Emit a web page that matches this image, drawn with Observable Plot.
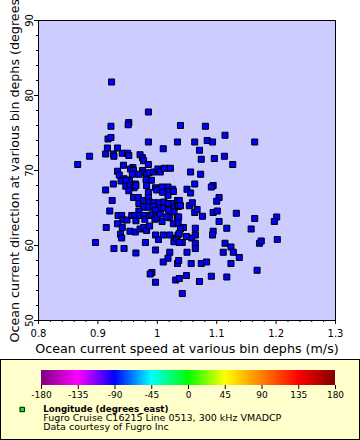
<!DOCTYPE html>
<html><head><meta charset="utf-8">
<script src="https://cdn.jsdelivr.net/npm/d3@7"></script>
<script src="https://cdn.jsdelivr.net/npm/@observablehq/plot@0.6"></script>
<style>
body{margin:0;background:#fff;font-family:"DejaVu Sans",sans-serif;}
#chart{width:360px;height:359px;overflow:hidden;}
#legend{width:360px;height:81px;box-sizing:border-box;border:1px solid #000;background:#ffffcc;}
</style></head><body>
<div id="chart"></div><div id="legend"></div>
<script>
const speed = [0.923,0.985,0.952,0.951,0.922,1.039,1.081,1.114,0.917,0.922,0.985,1.034,1.063,1.084,1.093,1.164,1.010,1.071,0.916,0.933,
0.886,0.866,0.913,0.926,0.927,0.941,0.950,0.952,0.971,0.975,0.977,0.985,0.943,1.074,1.096,1.113,1.127,0.959,0.955,0.960,
0.975,0.976,0.969,0.958,0.933,0.936,0.944,0.939,0.953,0.948,0.963,0.982,0.986,0.994,1.001,1.005,1.012,1.022,0.981,0.990,
0.926,1.056,1.073,1.063,1.094,1.091,0.913,0.947,0.954,0.961,0.964,0.952,0.960,0.968,0.969,0.977,0.977,0.985,0.982,0.997,
0.999,0.985,0.987,0.994,0.986,0.994,1.003,1.004,1.011,1.011,1.008,1.018,1.026,1.019,1.027,1.018,1.009,1.019,1.019,1.027,
1.029,1.028,1.034,1.035,0.924,0.920,0.934,0.940,0.942,0.933,0.941,0.938,0.940,0.949,0.957,0.962,0.964,0.969,0.970,0.978,
0.979,0.987,0.991,0.997,0.998,0.996,0.954,0.963,0.971,0.977,0.982,0.987,1.000,1.008,1.005,1.021,1.027,1.034,1.035,1.016,
0.914,0.896,0.927,0.944,0.964,0.980,0.997,1.002,1.010,1.021,1.028,1.032,1.035,0.997,1.021,1.018,1.010,1.034,1.036,0.991,
0.988,0.997,1.031,1.037,1.050,1.056,1.104,1.100,1.037,1.036,1.039,1.054,1.059,1.063,1.067,1.076,1.094,1.101,1.133,1.104,
1.164,1.201,1.197,1.036,1.044,1.039,1.037,1.064,1.064,1.058,1.049,1.042,1.037,1.094,1.093,1.117,1.158,1.114,1.124,1.128,
1.111,1.138,1.172,1.175,1.202,1.064,1.064,1.050,1.124,1.168,1.057,1.074,1.083,1.049,1.071,1.091,1.117,1.042];
const direction = [81.8,77.8,76.4,76.1,75.9,76.0,75.9,74.7,74.2,74.4,73.8,73.8,73.8,74.0,73.8,73.8,72.9,72.7,73.0,73.0,
71.9,70.8,72.2,72.2,71.9,72.3,72.3,72.0,72.1,71.7,71.3,70.8,70.7,71.5,71.6,71.9,70.8,70.4,70.2,70.0,
70.0,69.7,69.5,69.5,69.9,69.4,68.9,68.6,68.7,68.7,68.2,69.5,69.7,69.8,70.2,69.8,70.3,70.3,68.8,68.7,
68.2,69.8,69.5,68.2,68.0,67.8,67.4,67.9,68.0,67.7,68.0,67.3,66.4,66.4,65.6,66.0,65.1,67.1,68.0,67.7,
67.4,66.4,65.8,65.7,65.1,65.2,65.7,65.0,65.8,65.0,67.8,67.8,67.5,67.2,67.2,66.7,67.1,65.6,64.7,65.6,
65.1,64.5,66.0,65.2,66.0,64.6,64.0,64.0,63.4,62.9,62.4,61.5,61.0,63.4,64.0,64.0,63.3,64.6,64.0,64.0,
63.5,64.0,64.1,64.7,64.0,63.5,61.9,61.8,62.2,62.4,62.0,62.6,63.7,63.2,64.2,63.7,62.9,63.8,63.0,63.8,
62.4,60.4,59.6,59.6,59.0,60.4,61.4,60.8,61.4,61.4,60.5,61.0,61.4,59.4,59.1,58.3,57.8,57.6,58.0,56.4,
56.2,55.1,55.4,55.6,67.5,67.0,66.4,65.9,66.0,65.3,65.3,65.3,65.7,64.4,64.8,63.9,64.4,64.6,64.3,63.2,
63.6,63.8,63.2,63.8,62.4,62.2,61.6,62.3,61.4,61.0,61.2,60.4,60.4,61.9,61.4,62.3,62.2,60.3,59.8,59.1,
59.1,58.4,60.3,60.6,60.8,60.3,59.6,59.1,57.6,56.7,57.6,57.6,57.8,56.0,55.2,55.9,55.8,53.6];

const xTicks = [0.8, 0.9, 1.0, 1.1, 1.2, 1.3];
const xTickLabels = ["0.8", "0.9", "1", "1.1", "1.2", "1.3"];
const yTicks = [50, 60, 70, 80, 90];
const yTickLabels = ["50", "60", "70", "80", "90"];
const xLabel = "Ocean current speed at various bin dephs (m/s)";
const yLabel = "Ocean current direction at various bin dephs (degrees_true)";
const colorStops = [-180, -135, -90, -45, 0, 45, 90, 135, 180];
const colorStopLabels = ["-180", "-135", "-90", "-45", "0", "45", "90", "135", "180"];
const colorStopColors = ["#800080", "#ff00ff", "#0000ff", "#00ffff", "#00ff00", "#ffff00", "#ff8000", "#ff0000", "#800000"];
const legendTitle = "Longitude (degrees_east)";
const legendLine1 = "Fugro Cruise C16215 Line 0513, 300 kHz VMADCP";
const legendLine2 = "Data courtesy of Fugro Inc";
const markerColor = "#0000ff";
const legendMarkerColor = "#00ff00";

const points = speed.map((s, i) => ({speed: s, direction: direction[i]}));
const xMinor = d3.range(40, 66).map(k => k / 50).filter(v => !xTicks.some(t => Math.abs(t - v) < 1e-9));
const yMinor = d3.range(50, 91, 2).filter(v => v % 10 !== 0);
const font = "DejaVu Sans";

const chart = Plot.plot({
  width: 360, height: 359,
  marginLeft: 38, marginRight: 25, marginTop: 20, marginBottom: 39,
  style: {fontFamily: font, fontSize: "10px", background: "white", color: "black"},
  x: {domain: [0.8, 1.3]},
  y: {domain: [50, 90]},
  marks: [
    Plot.frame({fill: "#ccccff"}),
    Plot.axisX(xMinor, {tickSize: 2, tickFormat: () => "", label: null}),
    Plot.axisX(xTicks, {tickSize: 4, tickPadding: 5, tickFormat: d => xTickLabels[xTicks.indexOf(d)], label: null}),
    Plot.axisY(yMinor, {tickSize: 2, tickFormat: () => "", label: null}),
    Plot.axisY(yTicks, {tickSize: 4, tickPadding: 2, tickRotate: -90, tickFormat: d => yTickLabels[yTicks.indexOf(d)], label: null}),
    Plot.dot(points, {x: "speed", y: "direction", symbol: "square", r: 3.4, fill: markerColor, stroke: "black", strokeWidth: 1}),
    Plot.frame({stroke: "black"}),
    Plot.text([xLabel], {text: d => d, frameAnchor: "bottom", lineAnchor: "bottom", dy: 32.7, fontSize: 12.7}),
    Plot.text([yLabel], {text: d => d, frameAnchor: "bottom-left", rotate: -90, textAnchor: "start", lineAnchor: "bottom", dx: -20, dy: 22, fontSize: 12.7})
  ]
});
document.getElementById("chart").appendChild(chart);

const steps = d3.range(-180, 180, 1);
const legend = Plot.plot({
  width: 358, height: 79,
  marginLeft: 40, marginRight: 24, marginTop: 10, marginBottom: 54,
  style: {fontFamily: font, fontSize: "9px", background: "transparent", color: "black"},
  x: {domain: [-180, 180]},
  y: {domain: [0, 1], axis: null},
  color: {type: "linear", domain: colorStops, range: colorStopColors, interpolate: "rgb"},
  marks: [
    Plot.rect(steps, {x1: d => d, x2: d => Math.min(d + 1.6, 180), y1: 0, y2: 1, fill: d => d + 0.5, shapeRendering: "crispEdges"}),
    Plot.axisX(colorStops, {tickSize: 4, tickPadding: 2.3, tickFormat: d => colorStopLabels[colorStops.indexOf(d)], label: null}),
    Plot.dot([legendTitle], {frameAnchor: "bottom-left", dx: -19.3, dy: 24, symbol: "square", r: 2.5, fill: legendMarkerColor, stroke: "black", strokeWidth: 1}),
    Plot.text([legendTitle], {text: d => d, frameAnchor: "bottom-left", dx: 1.7, dy: 26.7, textAnchor: "start", lineAnchor: "bottom", fontWeight: "bold", fontSize: 8.7}),
    Plot.text([legendLine1], {text: d => d, frameAnchor: "bottom-left", dx: 1.7, dy: 35.5, textAnchor: "start", lineAnchor: "bottom", fontSize: 9.5}),
    Plot.text([legendLine2], {text: d => d, frameAnchor: "bottom-left", dx: 1.7, dy: 44.3, textAnchor: "start", lineAnchor: "bottom", fontSize: 9.5})
  ]
});
document.getElementById("legend").appendChild(legend);
</script>
</body></html>
